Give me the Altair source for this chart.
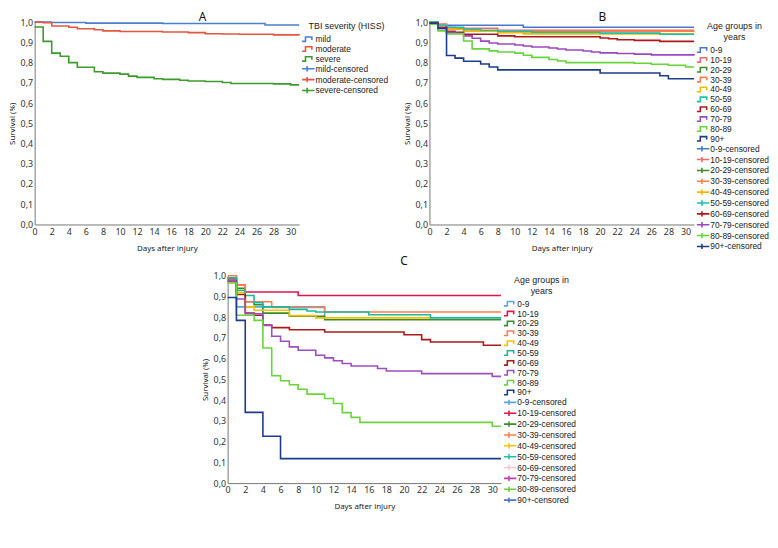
import altair as alt
import pandas as pd

FONT = "Noto Sans"
LEG_FONT = "Liberation Sans Narrow, Liberation Sans, Arial, sans-serif"

# ---------------- Panel A: TBI severity ----------------
A_groups = ["mild", "moderate", "severe"]
A_line_colors = ["#4b7fd0", "#e8553f", "#3d9a2c"]
A_cens_colors = ["#4b7fd0", "#e8553f", "#3d9a2c"]
A_mild_days = [0, 2, 6, 15, 27, 31]
A_mild_surv = [1.0, 0.998, 0.995, 0.993, 0.986, 0.986]
A_moderate_days = [0, 1, 2, 4, 5, 7, 8, 10, 15, 18, 20, 22, 24, 28, 31]
A_moderate_surv = [1.0, 0.997, 0.981, 0.975, 0.967, 0.962, 0.957, 0.954, 0.951, 0.948, 0.943, 0.941, 0.94, 0.937, 0.935]
A_severe_days = [0, 1, 2, 3, 4, 5, 7, 8, 10, 11, 12, 14, 15, 17, 18, 20, 22, 23, 28, 30, 31]
A_severe_surv = [0.976, 0.905, 0.847, 0.831, 0.80, 0.777, 0.755, 0.748, 0.743, 0.733, 0.727, 0.72, 0.717, 0.713, 0.709, 0.707, 0.702, 0.697, 0.695, 0.69, 0.69]

# ---------------- Age groups ----------------
AGE_groups = ["0-9", "10-19", "20-29", "30-39", "40-49", "50-59", "60-69", "70-79", "80-89", "90+"]

# Panel B: all TBI
B_line_colors = ["#4a78c9", "#f26a6a", "#3d8c2a", "#ff7f50", "#f5b800", "#20c0a8", "#b01818", "#9a48c0", "#66d43c", "#1f3c88"]
B_cens_colors = ["#4a78c9", "#f26a6a", "#3d8c2a", "#ff7f50", "#f5b800", "#20c0a8", "#b01818", "#9a48c0", "#66d43c", "#1f3c88"]
B_days = [
    [0, 1, 11, 31],
    [0, 1, 2, 3, 8, 31],
    [0, 1, 2, 4, 8, 11, 27, 31],
    [0, 1, 2, 3, 5, 31],
    [0, 1, 2, 4, 8, 11, 31],
    [0, 1, 2, 4, 6, 8, 12, 20, 27, 31],
    [0, 1, 2, 3, 4, 8, 10, 20, 21, 22, 24, 27, 31],
    [0, 1, 2, 3, 4, 5, 6, 7, 8, 10, 11, 12, 14, 15, 16, 18, 19, 20, 22, 24, 26, 31],
    [0, 1, 2, 4, 5, 7, 8, 10, 11, 12, 14, 15, 16, 24, 26, 28, 30, 31],
    [0, 1, 2, 3, 4, 6, 7, 8, 20, 27, 28, 31],
]
B_surv = [
    [1.0, 0.985, 0.975, 0.975],
    [1.0, 0.99, 0.975, 0.97, 0.96, 0.96],
    [1.0, 0.985, 0.97, 0.955, 0.95, 0.945, 0.94, 0.94],
    [1.0, 0.985, 0.97, 0.965, 0.955, 0.953],
    [1.0, 0.985, 0.965, 0.955, 0.948, 0.942, 0.942],
    [1.0, 0.985, 0.975, 0.965, 0.96, 0.955, 0.95, 0.945, 0.94, 0.94],
    [0.995, 0.975, 0.955, 0.95, 0.94, 0.932, 0.928, 0.922, 0.918, 0.913, 0.91, 0.905, 0.905],
    [0.99, 0.96, 0.95, 0.945, 0.932, 0.92, 0.906, 0.897, 0.892, 0.887, 0.882, 0.877, 0.872, 0.867, 0.862, 0.857, 0.852, 0.848, 0.845, 0.842, 0.838, 0.835],
    [0.99, 0.957, 0.942, 0.907, 0.868, 0.858, 0.852, 0.847, 0.836, 0.826, 0.815, 0.808, 0.8, 0.797, 0.792, 0.787, 0.778, 0.778],
    [0.995, 0.97, 0.835, 0.822, 0.807, 0.793, 0.778, 0.764, 0.749, 0.735, 0.72, 0.72],
]

# Panel C: severe TBI
C_line_colors = ["#5aa6e8", "#e0184c", "#3d8c2a", "#ff7f50", "#f2c200", "#1bb89f", "#aa1a1a", "#9b4fc0", "#6ad43c", "#1f3a8a"]
C_cens_colors = ["#5aa6e8", "#e0184c", "#3d8c2a", "#ff7f50", "#f5c400", "#20c0a8", "#f6c6d6", "#c83cb4", "#6ad43c", "#4a78c9"]
C_days = [
    [0, 1, 11],
    [0, 1, 2, 8, 31],
    [0, 1, 2, 3, 4, 7, 11, 31],
    [0, 1, 2, 5, 11, 31],
    [0, 1, 2, 3, 7, 10, 23],
    [0, 1, 2, 3, 4, 7, 9, 10, 16, 23, 31],
    [0, 1, 2, 3, 4, 5, 7, 11, 20, 22, 23, 29, 31],
    [0, 1, 2, 4, 5, 6, 7, 8, 10, 11, 12, 13, 14, 17, 18, 22, 30, 31],
    [0, 1, 3, 4, 5, 6, 7, 8, 9, 11, 12, 13, 14, 15, 30, 31],
    [0, 1, 2, 4, 6, 31],
]
C_surv = [
    [0.97, 0.85, 0.80],
    [0.985, 0.955, 0.922, 0.905, 0.905],
    [0.99, 0.94, 0.875, 0.86, 0.82, 0.805, 0.788, 0.788],
    [1.0, 0.955, 0.875, 0.847, 0.825, 0.825],
    [0.97, 0.92, 0.85, 0.834, 0.808, 0.797, 0.797],
    [0.99, 0.93, 0.905, 0.87, 0.85, 0.838, 0.83, 0.825, 0.812, 0.797, 0.797],
    [0.975, 0.91, 0.82, 0.81, 0.762, 0.75, 0.74, 0.729, 0.716, 0.692, 0.681, 0.665, 0.665],
    [0.975, 0.888, 0.817, 0.761, 0.708, 0.684, 0.657, 0.641, 0.617, 0.604, 0.59, 0.577, 0.565, 0.553, 0.541, 0.528, 0.515, 0.515],
    [0.965, 0.81, 0.785, 0.652, 0.518, 0.494, 0.474, 0.453, 0.429, 0.408, 0.384, 0.34, 0.317, 0.293, 0.274, 0.274],
    [0.895, 0.785, 0.341, 0.226, 0.118, 0.118],
]

X_TICKS = list(range(0, 31, 2))
Y_TICKS = [0.0, 0.1, 0.2, 0.3, 0.4, 0.5, 0.6, 0.7, 0.8, 0.9, 1.0]

# legend icons (symbolSize 36 -> unit = 3px)
STEP_ICON = "M-2.1,0.75L-0.95,0.75L-0.95,-0.75L1.2,-0.75L1.2,0.25"
CROSS_ICON = "M-2.1,0L2.1,0M-0.4,-0.9L-0.4,0.9"


def long_df(groups, days_list, surv_list):
    rows = []
    for g, ds, vs in zip(groups, days_list, surv_list):
        for d, v in zip(ds, vs):
            rows.append({"group": g, "day": d, "surv": v})
    return pd.DataFrame(rows)


def panel(df, groups, line_colors, cens_colors, title, title_dx, title_offset,
          legend_title, width, height):
    cens = [g + "-censored" for g in groups]
    domain = groups + cens
    x = alt.X("day:Q",
              scale=alt.Scale(domain=[0, 31], nice=False, zero=False),
              axis=alt.Axis(values=X_TICKS, title="Days after injury", grid=False,
                            ticks=False, labelPadding=3, titlePadding=8,
                            labelFontSize=9, titleFontSize=8, titleFontWeight="normal",
                            labelColor="#333", titleColor="#222", domainColor="#777",
                            labelFont=FONT, titleFont=FONT, labelFlush=False))
    y = alt.Y("surv:Q",
              scale=alt.Scale(domain=[0, 1], nice=False, zero=True),
              axis=alt.Axis(values=Y_TICKS, title="Survival (%)", grid=False,
                            ticks=False, labelPadding=2, titlePadding=4,
                            labelExpr="replace(format(datum.value, '.1f'), '.', ',')",
                            labelFontSize=9, titleFontSize=8, titleFontWeight="normal",
                            labelColor="#333", titleColor="#222", domainColor="#777",
                            labelFont=FONT, titleFont=FONT, labelFlush=False))
    base = alt.Chart(df)
    lines = base.mark_line(interpolate="step-after", strokeWidth=1.6).encode(
        x=x, y=y,
        stroke=alt.Stroke("group:N", scale=alt.Scale(domain=groups, range=line_colors), legend=None),
    )
    leg = alt.Legend(title=legend_title, titleFontSize=9, titleFontWeight="normal",
                     titleFont=LEG_FONT, labelFont=LEG_FONT, labelFontSize=8.5,
                     titleColor="#222", labelColor="#222",
                     titleAnchor="middle", titleAlign="center", titlePadding=4,
                     symbolSize=36, symbolStrokeWidth=1.6, symbolOpacity=1,
                     labelOffset=3, rowPadding=-2.7, offset=1, padding=0,
                     labelLimit=200)
    pts = base.mark_point(opacity=0, filled=False).encode(
        x=x, y=y,
        color=alt.Color("group:N", scale=alt.Scale(domain=domain, range=line_colors + cens_colors), legend=leg),
        shape=alt.Shape("group:N", scale=alt.Scale(domain=domain,
                                                   range=[STEP_ICON] * len(groups) + [CROSS_ICON] * len(groups)),
                        legend=leg),
    )
    return alt.layer(lines, pts).properties(
        width=width, height=height,
        title=alt.Title(title, fontSize=12, fontWeight="normal", font=FONT, color="#111",
                        frame="bounds", anchor="middle", offset=title_offset, dx=title_dx),
    )


dfA = long_df(A_groups, [A_mild_days, A_moderate_days, A_severe_days],
              [A_mild_surv, A_moderate_surv, A_severe_surv])
dfB = long_df(AGE_groups, B_days, B_surv)
dfC = long_df(AGE_groups, C_days, C_surv)

pA = panel(dfA, A_groups, A_line_colors, A_cens_colors, "A", 4, -6,
           "TBI severity (HISS)", 268, 205)
pB = panel(dfB, AGE_groups, B_line_colors, B_cens_colors, "B", 16, -6,
           ["Age groups in", "years"], 268, 205)
pC = panel(dfC, AGE_groups, C_line_colors, C_cens_colors, "C", 15, 4,
           ["Age groups in", "years"], 277, 210)

top = alt.hconcat(pA, pB, spacing=14).resolve_scale(
    color="independent", shape="independent", stroke="independent"
).resolve_legend(color="independent", shape="independent")
chart = alt.vconcat(top, pC, spacing=2, center=True).resolve_scale(
    color="independent", shape="independent", stroke="independent"
).resolve_legend(color="independent", shape="independent").properties(padding=0).configure_view(stroke=None)

chart.save("out.html", embed_options={"renderer": "svg", "actions": False})
